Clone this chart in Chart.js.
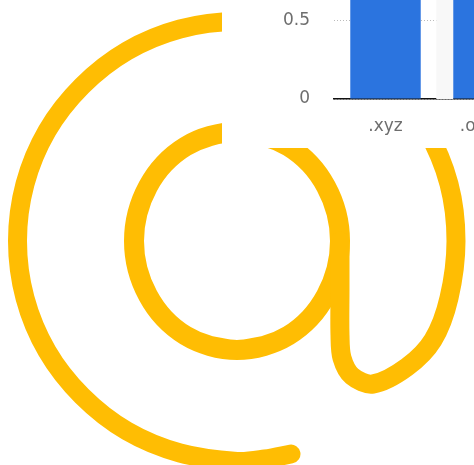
<!DOCTYPE html>
<html>
<head>
<meta charset="utf-8">
<script src="https://cdn.jsdelivr.net/npm/chart.js@4"></script>
<style>
  html, body { margin: 0; padding: 0; width: 474px; height: 465px; overflow: hidden; background: #fff; }
  canvas { position: absolute; }
  #logoChart { left: 0; top: 0; }
  #barChart { left: 222px; top: -170px; background: #fff; }
</style>
</head>
<body>
<canvas id="logoChart" width="474" height="465"></canvas>
<canvas id="barChart" width="318" height="318"></canvas>
<script>
// bar chart values
const categories = ['.xyz', '.online'];
const barValues = [1.2, 1.1];

// @ sign outline in page pixels
const ringX = [291, 265, 237, 180, 127, 82, 47, 25, 17.5, 25, 47, 82, 127, 180, 237, 294, 347, 392, 427, 449, 456, 449, 433, 407, 373, 352, 342, 340, 340, 340];
const ringY = [454, 459, 461.5, 453, 431, 396, 351, 298, 241, 184, 131, 86, 51, 29, 21.5, 29, 51, 86, 131, 184, 241, 298, 340, 367, 384, 376, 358, 335, 290, 241];
const bowlX = [264, 237, 210, 185.5, 164, 148, 137.5, 134, 137.5, 148, 164, 185.5, 210, 237, 264, 288.5, 310, 326, 336.5, 340, 336.5, 326, 310, 288.5, 264, 237, 210];
const bowlY = [346, 350, 346, 335.5, 318, 295.5, 269, 241, 213, 186.5, 164, 146.5, 136, 132, 136, 146.5, 164, 186.5, 213, 241, 269, 295.5, 318, 335.5, 346, 350, 346];

const yellow = '#FFBD03';
const blue = '#2B74DF';

function logoLine(xs, ys, width) {
  return {
    data: xs.map((x, i) => ({ x: x, y: ys[i] })),
    showLine: true,
    borderColor: yellow,
    borderWidth: width,
    borderCapStyle: 'round',
    borderJoinStyle: 'round',
    pointRadius: 0,
    tension: 0.33,
    clip: false
  };
}

new Chart(document.getElementById('logoChart'), {
  type: 'scatter',
  data: {
    datasets: [logoLine(ringX, ringY, 19), logoLine(bowlX, bowlY, 20)]
  },
  options: {
    responsive: false,
    animation: false,
    plugins: { legend: { display: false }, tooltip: { enabled: false } },
    scales: {
      x: { display: false, min: 0, max: 474 },
      y: { display: false, min: 0, max: 465, reverse: true }
    }
  }
});

// faint band just left of the second bar
const bandPlugin = {
  id: 'band',
  beforeDatasetsDraw(chart) {
    const meta = chart.getDatasetMeta(0).data[1];
    const area = chart.chartArea;
    chart.ctx.fillStyle = '#F8F8F8';
    chart.ctx.fillRect(meta.x - meta.width / 2 - 17, area.top, 17, area.bottom - area.top);
  }
};

new Chart(document.getElementById('barChart'), {
  type: 'bar',
  data: {
    labels: categories,
    datasets: [{
      data: barValues,
      backgroundColor: blue,
      categoryPercentage: 1,
      barPercentage: 0.684
    }]
  },
  plugins: [bandPlugin],
  options: {
    responsive: false,
    animation: false,
    plugins: { legend: { display: false }, tooltip: { enabled: false } },
    scales: {
      x: {
        afterFit(scale) { scale.height = 49; },
        grid: { display: false },
        border: { color: '#111', width: 1.5 },
        ticks: { color: '#6e6e6e', padding: 9, font: { family: 'DejaVu Sans', size: 17 }, maxRotation: 0 }
      },
      y: {
        min: 0,
        max: 1.5,
        afterFit(scale) { scale.width = 112; },
        grid: { color: '#bbb', lineWidth: 1, drawTicks: false },
        border: { display: false, dash: [1, 2] },
        ticks: { stepSize: 0.5, color: '#6e6e6e', padding: 24, font: { family: 'DejaVu Sans', size: 17 } }
      }
    }
  }
});
</script>
</body>
</html>
